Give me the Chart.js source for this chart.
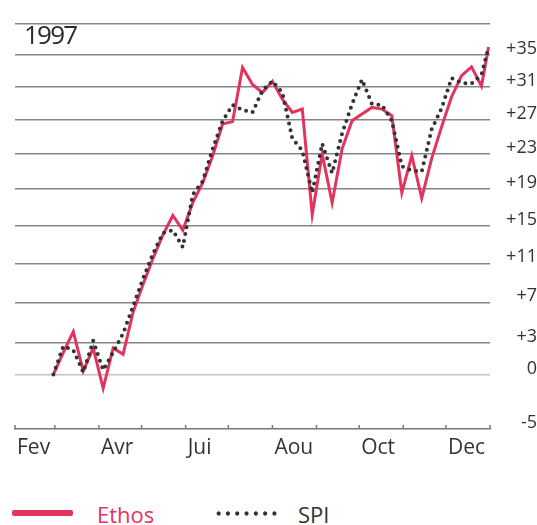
<!DOCTYPE html>
<html>
<head>
<meta charset="utf-8">
<script src="https://cdn.jsdelivr.net/npm/chart.js@4"></script>
<style>
  html, body { margin: 0; padding: 0; background: #fff; }
  #wrap { position: relative; width: 537px; height: 525px; font-family: 'Open Sans', sans-serif; overflow: hidden; }
  #chartBox { position: absolute; left: 0; top: 0; width: 537px; height: 470px; }
  #year { position: absolute; left: 24px; top: 21px; font-size: 26px; line-height: 26px; letter-spacing: -1.8px; color: #2b2b2b; }
  .swatch { position: absolute; }
  #swEthos { left: 12px; top: 510px; width: 61px; height: 6px; border-radius: 2px; background: #e2345c; }
  #swSpi { left: 214px; top: 511px; width: 64px; height: 5px;
    background: radial-gradient(circle, #333 1.9px, rgba(0,0,0,0) 2.4px); background-size: 9.3px 5px; }
  .lbl { position: absolute; top: 503px; font-size: 22px; line-height: 22px; }
  #lbEthos { left: 97px; color: #e2345c; }
  #lbSpi { left: 298px; color: #333; }
</style>
</head>
<body>
<div id="wrap">
  <div id="chartBox"><canvas id="chart"></canvas></div>
  <div id="year">1997</div>
  <div class="swatch" id="swEthos"></div><div class="lbl" id="lbEthos">Ethos</div>
  <div class="swatch" id="swSpi"></div><div class="lbl" id="lbSpi">SPI</div>
</div>
<script>
// month boundaries (day of year, 0 = 1 Jan 1997) and their labels
const months = [31, 59, 90, 120, 151, 181, 212, 243, 273, 304, 334, 365];
const monthLabels = ['Fev', '', 'Avr', '', 'Jui', '', 'Aou', '', 'Oct', '', 'Dec', ''];

// weekly observation days (Fridays) + year end
const weekDays = [58, 65, 72, 79, 86, 93, 100, 107, 114, 121, 128, 135, 142, 149, 156,
  163, 170, 177, 184, 191, 198, 205, 212, 219, 226, 233, 240, 247, 254, 261, 268, 275,
  282, 289, 296, 303, 310, 317, 324, 331, 338, 345, 352, 359, 364];

// performance in % since start
const ethos = [0, 2.1, 4.1, 0.3, 2.5, -1.3, 2.5, 1.9, 6.0, 8.8, 11.5, 14.0, 16.1, 14.5, 17.5,
  19.7, 22.8, 26.5, 26.8, 33.4, 31.3, 30.3, 31.7, 29.5, 27.9, 28.3, 16.2, 23.0, 17.5, 23.6,
  26.9, 27.7, 28.5, 28.3, 27.5, 18.6, 22.8, 18.0, 22.5, 26.2, 29.8, 32.4, 33.5, 31.1, 36.0];
const spi = [0, 2.7, 2.3, 0.2, 3.2, 0.4, 2.1, 3.9, 6.6, 9.4, 12.0, 14.2, 14.5, 12.7, 18.4,
  19.9, 23.6, 26.9, 28.8, 28.2, 27.9, 30.6, 31.7, 30.3, 24.8, 23.4, 18.6, 24.2, 20.8, 25.4,
  28.9, 31.9, 28.9, 28.8, 26.9, 21.6, 21.1, 21.0, 25.9, 28.4, 32.1, 31.5, 31.4, 32.5, 36.0];

const yTicks = [-5, 0, 3, 7, 11, 15, 19, 23, 27, 31, 35, 39];
const yTickLabels = ['-5', '0', '+3', '+7', '+11', '+15', '+19', '+23', '+27', '+31', '+35', ''];

const RED = '#e2345c';
const DARK = '#333333';

Chart.defaults.font.family = "'Open Sans', sans-serif";

// small upward tick marks on the time axis
const monthTicks = {
  id: 'monthTicks',
  afterDatasetsDraw(chart) {
    const xs = chart.scales.x, ctx = chart.ctx, b = chart.chartArea.bottom;
    ctx.save();
    ctx.strokeStyle = '#777';
    ctx.lineWidth = 1.5;
    months.forEach(m => {
      const px = xs.getPixelForValue(m);
      ctx.beginPath();
      ctx.moveTo(px, b);
      ctx.lineTo(px, b - 4);
      ctx.stroke();
    });
    ctx.restore();
  }
};

new Chart(document.getElementById('chart'), {
  type: 'line',
  data: {
    datasets: [{
      label: 'Ethos',
      data: weekDays.map((d, i) => ({ x: d, y: 100 + ethos[i] })),
      borderColor: RED,
      borderWidth: 3,
      order: 2
    }, {
      label: 'SPI',
      data: weekDays.map((d, i) => ({ x: d, y: 100 + spi[i] })),
      borderColor: DARK,
      borderWidth: 4,
      borderDash: [0, 7],
      borderCapStyle: 'round',
      order: 1
    }]
  },
  options: {
    responsive: true,
    maintainAspectRatio: false,
    animation: false,
    layout: { padding: { left: 15, top: 17, right: 0, bottom: 0 } },
    elements: { point: { radius: 0 }, line: { tension: 0 } },
    plugins: { legend: { display: false }, tooltip: { enabled: false } },
    scales: {
      x: {
        type: 'linear',
        min: 31,
        max: 365,
        afterBuildTicks: s => { s.ticks = months.map(v => ({ value: v })); },
        afterFit: s => { s.height = 41; },
        ticks: {
          callback: (v, i) => monthLabels[i],
          align: 'start',
          labelOffset: 2,
          padding: 6,
          maxRotation: 0,
          autoSkip: false,
          color: DARK,
          font: { size: 21 }
        },
        grid: { display: false, drawTicks: false },
        border: { display: true, color: '#777', width: 1.5 }
      },
      y: {
        type: 'logarithmic',
        position: 'right',
        min: 95,
        max: 139,
        afterBuildTicks: s => { s.ticks = yTicks.map(v => ({ value: 100 + v })); },
        afterFit: s => { s.width = 47; },
        ticks: {
          callback: (v, i) => yTickLabels[i],
          crossAlign: 'far',
          padding: 13,
          labelOffset: -6,
          autoSkip: false,
          color: DARK,
          font: { size: 18 }
        },
        grid: {
          drawTicks: false,
          color: c => c.tick && c.tick.value === 100 ? '#c4c4c4' : (c.tick && c.tick.value === 95 ? 'rgba(0,0,0,0)' : '#858585'),
          lineWidth: 1.5,
          borderDash: c => c.tick && c.tick.value === 100 ? [2, 3] : []
        },
        border: { display: false }
      }
    }
  },
  plugins: [monthTicks]
});
</script>
</body>
</html>
